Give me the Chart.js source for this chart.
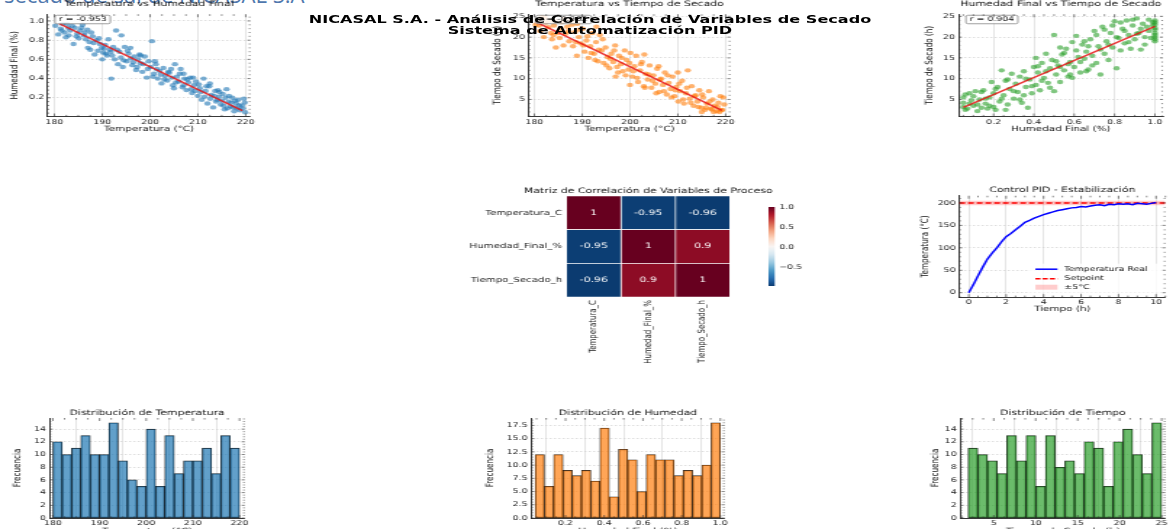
<!DOCTYPE html>
<html>
<head>
<meta charset="utf-8">
<script src="https://cdn.jsdelivr.net/npm/chart.js@4.4.1/dist/chart.umd.min.js"></script>
<style>
  html, body { margin: 0; padding: 0; background: #fff; overflow: hidden; }
  body { width: 1169px; height: 529px; position: relative; }
  #page-head { position: absolute; left: 4px; top: -17px; font-family: 'Open Sans', sans-serif; font-size: 22px; line-height: 22px; color: #4f77ad; white-space: nowrap; }
  #fig { position: absolute; left: 0; top: 0; height: 529px; transform-origin: 0 0; }
  #fig canvas { position: absolute; }
  #suptitle { position: absolute; font-family: 'DejaVu Sans', sans-serif; font-weight: bold; font-size: 11.1px; line-height: 11.5px; text-align: center; color: #000; white-space: nowrap; }
</style>
</head>
<body>
<div id="page-head">secado de sal de NICASAL S.A</div>
<div id="fig">
  <canvas id="sc1"></canvas>
  <canvas id="sc2"></canvas>
  <canvas id="sc3"></canvas>
  <canvas id="heat"></canvas>
  <canvas id="cbar"></canvas>
  <canvas id="pid"></canvas>
  <canvas id="h1"></canvas>
  <canvas id="h2"></canvas>
  <canvas id="h3"></canvas>
  <div id="suptitle">NICASAL S.A. - Análisis de Correlación de Variables de Secado<br>Sistema de Automatización PID</div>
</div>
<script>
// ---------- data ----------
// Temperatura vs Humedad Final
const p1Temp = [180.2,180.8,181.3,181.7,182.1,182.4,182.9,183.3,183.7,184.0,
  184.3,184.8,185.1,185.4,185.9,186.2,186.6,186.9,187.3,187.7,
  188.0,188.4,188.8,189.1,189.5,189.9,190.2,190.6,191.0,191.3,
  191.6,191.9,192.3,192.6,192.9,193.3,193.6,193.9,194.3,194.7,
  195.1,195.5,195.9,196.3,196.7,197.1,197.5,198.0,198.4,198.9,
  199.3,199.7,200.1,200.4,200.8,201.2,201.6,202.0,202.4,202.8,
  203.2,203.6,204.0,204.4,204.8,205.2,205.6,206.0,206.4,206.8,
  207.2,207.6,208.0,208.4,208.8,209.2,209.6,210.0,210.4,210.8,
  211.2,211.6,212.0,212.4,212.8,213.2,213.6,214.0,214.4,214.8,
  215.2,215.6,216.0,216.4,216.8,217.2,217.6,218.0,218.4,218.8,
  219.2,219.6,219.9,183.0,187.0,194.0,196.0,201.0,205.0,209.0,
  212.5,216.5,190.0,198.0,207.0,214.5,
  181.5,182.6,184.6,185.7,186.4,187.5,188.2,189.3,190.4,190.8,
  191.8,192.1,193.1,194.5,195.3,196.5,197.3,197.8,198.6,199.5,
  200.6,201.4,202.2,203.0,203.8,204.6,205.4,206.2,207.0,207.8,
  208.6,209.4,210.2,210.6,211.4,211.8,212.6,213.4,213.8,214.2,
  215.0,215.4,215.8,216.2,217.0,217.4,217.8,218.2,218.6,219.4,219.8];
const p1Hum = [0.95,0.86,0.92,0.97,0.88,0.83,0.93,0.90,0.95,0.76,
  0.93,0.87,0.82,0.90,0.96,0.85,0.81,0.91,0.78,0.88,
  0.84,0.65,0.80,0.69,0.76,0.72,0.67,0.75,0.64,0.81,
  0.70,0.40,0.73,0.60,0.90,0.55,0.68,0.62,0.52,0.73,
  0.58,0.66,0.72,0.54,0.63,0.49,0.60,0.56,0.47,0.63,
  0.41,0.58,0.52,0.79,0.45,0.55,0.40,0.48,0.35,0.51,
  0.43,0.38,0.46,0.50,0.33,0.55,0.42,0.37,0.50,0.31,
  0.40,0.28,0.36,0.41,0.25,0.33,0.37,0.22,0.30,0.18,
  0.40,0.27,0.14,0.32,0.23,0.10,0.27,0.18,0.21,0.13,
  0.24,0.08,0.29,0.16,0.11,0.20,0.06,0.14,0.18,0.07,
  0.12,0.19,0.05,0.85,0.72,0.85,0.61,0.58,0.30,0.41,
  0.35,0.22,0.60,0.64,0.45,0.26,
  0.90,0.97,0.84,0.93,0.88,0.70,0.77,0.82,0.71,0.66,
  0.68,0.64,0.70,0.59,0.69,0.57,0.52,0.65,0.55,0.50,
  0.42,0.50,0.44,0.39,0.47,0.41,0.36,0.45,0.33,0.39,
  0.29,0.27,0.34,0.26,0.21,0.32,0.19,0.22,0.16,0.28,
  0.17,0.12,0.20,0.09,0.15,0.10,0.17,0.09,0.12,0.09,0.15];

// Temperatura vs Tiempo de Secado
const p2Temp = [180.3,180.8,181.2,181.6,182.0,182.4,182.9,183.3,183.7,184.1,
  184.5,184.9,185.3,185.7,186.1,186.5,186.9,187.3,187.7,188.1,
  188.5,188.9,189.3,189.7,190.1,190.5,190.9,191.3,191.7,192.1,
  192.5,192.9,193.3,193.7,194.1,194.5,194.9,195.3,195.7,196.1,
  196.5,196.9,197.3,197.7,198.1,198.5,198.9,199.3,199.7,200.1,
  200.5,200.9,201.3,201.7,202.1,202.5,202.9,203.3,203.7,204.1,
  204.5,204.9,205.3,205.7,206.1,206.5,206.9,207.3,207.7,208.1,
  208.5,208.9,209.3,209.7,210.1,210.5,210.9,211.3,211.7,212.1,
  212.5,212.9,213.3,213.7,214.1,214.5,214.9,215.3,215.7,216.1,
  216.5,216.9,217.3,217.7,218.1,218.5,218.9,219.3,219.7,
  184.0,189.0,197.0,203.0,210.0,215.0,193.0,206.0,200.0,
  181.0,182.2,183.5,184.3,185.5,186.3,187.1,187.9,188.7,189.5,
  190.3,191.1,191.9,192.7,193.5,194.3,195.1,195.9,196.7,197.5,
  198.3,199.1,199.9,200.7,201.5,202.3,203.1,203.9,204.7,205.5,
  206.3,207.1,207.9,208.7,209.5,210.3,211.1,211.9,212.7,213.5,
  214.3,215.1,215.9,216.7,217.5,218.3,219.1,219.5,218.7,217.1];
const p2Time = [23.0,24.2,21.5,24.8,20.0,23.5,22.4,24.0,19.5,22.8,
  17.5,21.0,19.8,23.6,18.0,20.8,22.5,19.0,24.0,17.8,
  21.2,15.5,20.0,18.5,22.0,16.5,19.2,15.0,17.8,21.0,
  16.0,18.8,14.2,20.5,16.8,13.8,17.5,15.2,12.5,16.0,
  14.0,18.0,12.8,15.5,13.5,11.8,16.8,14.5,12.2,16.2,
  10.5,13.0,15.5,9.2,12.0,14.0,8.2,11.2,9.8,13.2,
  7.8,10.8,8.8,12.4,6.8,10.0,8.5,11.5,6.2,9.0,
  7.5,10.5,5.8,8.0,4.5,7.0,9.5,4.0,6.5,12.0,
  5.2,8.2,3.5,6.0,4.5,7.2,3.0,5.5,2.5,4.0,
  7.0,2.8,5.0,3.5,2.2,4.2,5.8,2.5,3.8,
  20.5,23.2,10.5,15.8,11.5,2.0,22.5,13.0,8.5,
  22.8,24.6,21.0,23.8,22.0,24.4,21.4,23.0,18.8,21.8,
  18.0,20.2,16.2,14.5,17.0,19.5,13.2,14.8,16.8,11.5,
  15.0,10.8,13.8,11.8,10.2,13.5,7.8,11.0,9.5,6.5,
  9.8,7.0,10.8,5.5,7.2,8.8,5.0,7.8,4.2,5.8,
  3.2,6.2,3.0,4.5,2.0,3.2,2.4,5.5,2.0,2.6];

// Humedad Final vs Tiempo de Secado
const p3Hum = [0.05,0.05,0.06,0.07,0.09,0.10,0.11,0.12,0.13,0.15,
  0.16,0.17,0.18,0.19,0.20,0.20,0.21,0.22,0.23,0.24,
  0.25,0.26,0.27,0.28,0.29,0.30,0.31,0.32,0.33,0.34,
  0.35,0.36,0.37,0.38,0.39,0.40,0.41,0.41,0.42,0.43,
  0.44,0.45,0.46,0.47,0.48,0.49,0.50,0.50,0.51,0.52,
  0.53,0.54,0.55,0.56,0.57,0.58,0.59,0.60,0.61,0.62,
  0.63,0.64,0.65,0.66,0.67,0.68,0.69,0.70,0.71,0.72,
  0.73,0.74,0.75,0.76,0.77,0.78,0.79,0.80,0.81,0.82,
  0.83,0.84,0.85,0.86,0.87,0.88,0.89,0.90,0.91,0.92,
  0.93,0.94,0.95,0.96,0.97,
  1.00,1.00,1.00,1.00,1.00,1.00,1.00,0.99,
  0.14,0.08,0.26,0.53,0.66,
  0.05,0.06,0.08,0.10,0.12,0.14,0.16,0.18,0.21,0.24,
  0.27,0.30,0.33,0.36,0.39,0.42,0.44,0.46,0.48,0.51,
  0.53,0.55,0.57,0.59,0.61,0.63,0.65,0.67,0.69,0.71,
  0.73,0.75,0.77,0.79,0.81,0.83,0.85,0.87,0.89,0.91,
  0.93,0.95,0.97,0.98,1.00,1.00,1.00,0.99,0.35,0.58];
const p3Time = [5.5,3.2,6.2,2.8,4.8,3.5,7.0,2.2,5.0,7.2,
  4.0,2.8,5.5,9.2,3.2,6.5,2.5,8.0,4.5,12.0,
  6.0,9.5,3.8,7.5,11.2,5.2,8.8,6.8,10.5,4.2,
  11.8,8.0,3.0,9.8,6.5,12.8,15.0,8.5,11.5,7.2,
  13.8,10.2,16.0,9.0,12.5,14.5,7.0,20.5,11.0,13.2,
  9.2,15.8,12.0,17.2,10.5,14.0,18.8,12.8,20.3,15.2,
  11.5,18.2,14.8,16.5,12.2,19.5,15.5,21.5,13.8,17.8,
  11.0,22.5,16.0,19.0,14.5,21.0,17.5,23.8,12.5,19.8,
  16.8,22.0,18.5,24.0,20.5,17.2,22.8,19.5,24.5,21.0,
  17.0,23.2,20.0,22.5,24.2,
  19.0,20.5,21.8,23.0,24.0,22.2,20.0,23.6,
  3.0,4.0,2.5,17.5,11.8,
  4.2,2.5,6.5,5.8,3.8,6.8,5.2,3.5,7.5,5.2,
  9.8,7.0,5.0,10.0,8.2,13.0,9.5,11.8,7.8,14.2,
  12.8,16.2,13.5,10.2,16.8,14.0,19.0,17.8,13.2,20.5,
  17.0,21.8,18.2,22.8,20.0,23.5,21.5,18.8,24.2,20.8,
  22.0,18.2,21.5,19.8,21.0,23.5,19.5,22.8,6.0,11.0];

// regression lines (end points) and r values
const fit1X = [181.0, 219.3], fit1Y = [0.973, 0.067];
const fit2X = [180.4, 219.2], fit2Y = [23.6, 2.35];
const fit3X = [0.05, 1.0], fit3Y = [3.1, 22.6];
const rLabels = ['r = -0.953', 'r = -0.962', 'r = 0.904'];

// correlation matrix
const varNames = ['Temperatura_C', 'Humedad_Final_%', 'Tiempo_Secado_h'];
const corr = [
  [1, -0.95, -0.96],
  [-0.95, 1, 0.9],
  [-0.96, 0.9, 1]
];
const cbarMin = -0.96, cbarMax = 1.0;

// PID control
const pidTime = [0,0.25,0.5,0.75,1,1.25,1.5,1.75,2,2.25,2.5,2.75,3,3.25,3.5,3.75,4,4.25,4.5,4.75,
  5,5.25,5.5,5.75,6,6.25,6.5,6.75,7,7.25,7.5,7.75,8,8.25,8.5,8.75,9,9.25,9.5,9.75,10];
const pidTemp = [0,18,38,57,75,88,100,113,125,132,140,148,157,161,166,170,174,177,180,183,
  185,187,189,190,192,191,193,195,196,194,197,196,198,197,198,196,199,198,197,199,201];
const setpoint = 200, tolerance = 5;

// histograms (20 bins each)
const histTempCounts = [12,10,11,13,10,10,15,9,6,5,14,5,13,7,9,9,11,7,13,11];
const histTempRange = [180, 220];
const histHumCounts = [12,6,12,9,8,9,7,17,4,13,11,5,12,11,11,8,9,8,10,18];
const histHumRange = [0.043, 1.0];
const histTimeCounts = [11,10,9,7,13,9,13,5,13,8,9,7,12,11,5,12,14,10,7,15];
const histTimeRange = [1.95, 25.0];

// tick labels
const tempTicks = [180, 190, 200, 210, 220];
const humTicks = [0.2, 0.4, 0.6, 0.8, 1.0];
const timeTicks = [5, 10, 15, 20, 25];
const freqTicks = [0, 2, 4, 6, 8, 10, 12, 14];
const freqHumTicks = [0, 2.5, 5, 7.5, 10, 12.5, 15, 17.5];
const pidTimeTicks = [0, 2, 4, 6, 8, 10];
const pidTempTicks = [0, 50, 100, 150, 200];
const cbarTicks = [-0.5, 0, 0.5, 1.0];

// ---------- layout ----------
// the reference figure is stretched sideways, so the whole figure is drawn narrow and scaled
const S = 1.45;
const fig = document.getElementById('fig');
fig.style.width = (1169 / S) + 'px';
fig.style.transform = 'scaleX(' + S + ')';

const sup = document.getElementById('suptitle');
sup.style.left = (190 / S) + 'px';
sup.style.width = (800 / S) + 'px';
sup.style.top = '13.5px';

Chart.defaults.font.family = "'DejaVu Sans', sans-serif";
Chart.defaults.color = '#222';
Chart.defaults.animation = false;

const C0 = [31, 119, 180], C1 = [255, 127, 14], C2 = [44, 160, 44];
const rgba = (c, a) => 'rgba(' + c[0] + ',' + c[1] + ',' + c[2] + ',' + a + ')';

function place(id, box) {
  const c = document.getElementById(id);
  c.width = Math.round((box.r - box.l) / S);
  c.height = Math.round(box.b - box.t);
  c.style.left = (box.l / S) + 'px';
  c.style.top = box.t + 'px';
  return c;
}

function margins(box, area) {
  return {
    ml: (area.l - box.l) / S,
    mr: (box.r - area.r) / S,
    mt: area.t - box.t,
    mb: box.b - area.b
  };
}

function axis(o) {
  return {
    type: 'linear', min: o.min, max: o.max, position: o.pos, bounds: 'data', offset: false,
    afterBuildTicks: s => { s.ticks = o.ticks.map(v => ({ value: v })); },
    afterFit: s => { if (o.pos === 'left') s.width = o.size; else s.height = o.size; },
    ticks: { font: { size: 6.5 }, color: '#222', padding: o.pos === 'left' ? 2.5 : 1.5, autoSkip: false, maxRotation: 0,
      callback: o.fmt || (v => v) },
    grid: { color: o.pos === 'left' ? '#c8c8c8' : '#d4d4d4', lineWidth: 0.6, drawTicks: false },
    border: { display: true, color: '#222', width: 0.9, dash: o.pos === 'left' ? [1.5, 1.5] : [] },
    title: { display: !!o.title, text: o.title, font: { size: 7.2 }, padding: 0, color: '#111' }
  };
}

// subplot title centred over the plot area, like matplotlib's ax.set_title
const axTitle = (text, gap) => ({
  id: 'axTitle',
  afterDraw(chart) {
    const { ctx, chartArea: a } = chart;
    ctx.save();
    ctx.font = "7.5px 'DejaVu Sans'";
    ctx.fillStyle = '#111';
    ctx.textAlign = 'center';
    ctx.textBaseline = 'middle';
    ctx.fillText(text, (a.left + a.right) / 2, a.top - gap);
    ctx.restore();
  }
});

// matplotlib-like inward ticks on all four sides
const mplTicks = {
  id: 'mplTicks',
  afterDraw(chart) {
    const { ctx, chartArea: a, scales } = chart;
    const list = (s, n) => {
      const t = s.ticks.map(k => k.value);
      const step = (t[1] - t[0]) / n;
      const out = [];
      let v = t[0] - Math.floor((t[0] - s.min) / step + 1e-9) * step;
      for (; v <= s.max + 1e-9; v += step) out.push([v, t.some(m => Math.abs(m - v) < step / 10)]);
      return out;
    };
    ctx.save();
    ctx.strokeStyle = '#333';
    ctx.lineWidth = 0.6;
    ctx.beginPath();
    list(scales.x, 4).forEach(([v, major]) => {
      const px = scales.x.getPixelForValue(v), L = major ? 3 : 1.6;
      ctx.moveTo(px, a.top); ctx.lineTo(px, a.top + L);
      ctx.moveTo(px, a.bottom); ctx.lineTo(px, a.bottom - L);
    });
    list(scales.y, 5).forEach(([v, major]) => {
      const py = scales.y.getPixelForValue(v), L = (major ? 3 : 1.6) / S;
      ctx.moveTo(a.left, py); ctx.lineTo(a.left + L, py);
      ctx.moveTo(a.right, py); ctx.lineTo(a.right - L, py);
    });
    ctx.stroke();
    ctx.restore();
  }
};

const rBox = (text, dx) => ({
  id: 'rBox',
  afterDatasetsDraw(chart) {
    const { ctx, chartArea: a } = chart;
    ctx.save();
    ctx.font = "6.5px 'DejaVu Sans'";
    const w = ctx.measureText(text).width + 5, h = 8.5;
    const x = a.left + dx, y = a.top + 1;
    ctx.beginPath();
    if (ctx.roundRect) ctx.roundRect(x, y, w, h, 1.5); else ctx.rect(x, y, w, h);
    ctx.fillStyle = 'rgba(255,255,255,0.85)';
    ctx.fill();
    ctx.strokeStyle = '#777';
    ctx.lineWidth = 0.7;
    ctx.stroke();
    ctx.fillStyle = '#111';
    ctx.textBaseline = 'middle';
    ctx.textAlign = 'left';
    ctx.fillText(text, x + 2.5, y + h / 2 + 0.3);
    ctx.restore();
  }
});

function baseOptions(m) {
  return {
    responsive: false,
    layout: { padding: { left: 0, right: m.mr, top: m.mt, bottom: 0 } },
    plugins: { legend: { display: false }, tooltip: { enabled: false } }
  };
}

function scatterPanel(id, box, area, title, xs, ys, color, fx, fy, rText, xAx, yAx) {
  const m = margins(box, area);
  return new Chart(place(id, box), {
    type: 'scatter',
    data: {
      datasets: [
        { data: fx.map((x, i) => ({ x: x, y: fy[i] })), showLine: true, pointRadius: 0,
          borderColor: 'rgba(230,20,20,0.85)', borderWidth: 1.5, order: 0 },
        { data: xs.map((x, i) => ({ x: x, y: ys[i] })), pointRadius: 2.2, borderWidth: 0,
          backgroundColor: rgba(color, 0.6), order: 1 }
      ]
    },
    options: Object.assign(baseOptions(m), {
      scales: {
        x: axis(Object.assign({ pos: 'bottom', size: m.mb }, xAx)),
        y: axis(Object.assign({ pos: 'left', size: m.ml }, yAx))
      }
    }),
    plugins: [mplTicks, rBox(rText, 5), axTitle(title, 10)]
  });
}

function histPanel(id, box, area, title, counts, range, color, xAx, yAx) {
  const m = margins(box, area);
  const w = (range[1] - range[0]) / counts.length;
  return new Chart(place(id, box), {
    type: 'bar',
    data: {
      datasets: [{
        data: counts.map((c, i) => ({ x: range[0] + (i + 0.5) * w, y: c })),
        backgroundColor: rgba(color, 0.7), borderColor: 'rgba(0,0,0,0.85)', borderWidth: 0.6,
        borderSkipped: false, barPercentage: 1, categoryPercentage: 1
      }]
    },
    options: Object.assign(baseOptions(m), {
      scales: {
        x: axis(Object.assign({ pos: 'bottom', size: m.mb }, xAx)),
        y: axis(Object.assign({ pos: 'left', size: m.ml }, yAx))
      }
    }),
    plugins: [mplTicks, axTitle(title, 5.3)]
  });
}

const f1 = v => v.toFixed(1);

// ---------- top row: scatter plots ----------
scatterPanel('sc1', { l: 8, t: -0.25, r: 262, b: 132.5 }, { l: 47, t: 14, r: 250, b: 116 },
  'Temperatura vs Humedad Final', p1Temp, p1Hum, C0, fit1X, fit1Y, rLabels[0],
  { min: 178.6, max: 221.0, ticks: tempTicks, title: 'Temperatura (°C)' },
  { min: 0.005, max: 1.07, ticks: humTicks, title: 'Humedad Final (%)', fmt: f1 });

scatterPanel('sc2', { l: 491, t: -0.25, r: 742, b: 132.5 }, { l: 528, t: 14, r: 730, b: 116 },
  'Temperatura vs Tiempo de Secado', p2Temp, p2Time, C1, fit2X, fit2Y, rLabels[1],
  { min: 178.8, max: 221.0, ticks: tempTicks, title: 'Temperatura (°C)' },
  { min: 0.9, max: 25.5, ticks: timeTicks, title: 'Tiempo de Secado (h)' });

scatterPanel('sc3', { l: 924, t: -0.25, r: 1176, b: 132.5 }, { l: 959, t: 14, r: 1163, b: 116 },
  'Humedad Final vs Tiempo de Secado', p3Hum, p3Time, C2, fit3X, fit3Y, rLabels[2],
  { min: 0.027, max: 1.04, ticks: humTicks, title: 'Humedad Final (%)', fmt: f1 },
  { min: 0.9, max: 25.5, ticks: timeTicks, title: 'Tiempo de Secado (h)' });

// ---------- correlation heatmap ----------
const rdbuStops = [[5,48,97],[33,102,172],[67,147,195],[146,197,222],[209,229,240],[247,247,247],
  [253,219,199],[244,165,130],[214,96,77],[178,24,43],[103,0,31]];
function rdbu(v) {
  const t = Math.min(1, Math.max(0, (v + 1) / 2)) * 10;
  const i = Math.min(9, Math.floor(t)), f = t - i;
  const a = rdbuStops[i], b = rdbuStops[i + 1];
  return 'rgb(' + [0, 1, 2].map(k => Math.round(a[k] + (b[k] - a[k]) * f)).join(',') + ')';
}

const cellText = {
  id: 'cellText',
  afterDatasetsDraw(chart) {
    const ctx = chart.ctx;
    ctx.save();
    ctx.font = "7.5px 'DejaVu Sans'";
    ctx.textAlign = 'center';
    ctx.textBaseline = 'middle';
    chart.data.datasets.forEach((ds, i) => {
      chart.getDatasetMeta(i).data.forEach((el, j) => {
        const v = corr[j][i];
        const p = el.getCenterPoint();
        ctx.fillStyle = Math.abs(v) > 0.5 ? '#fff' : '#111';
        ctx.fillText(String(v), p.x, p.y);
      });
    });
    ctx.restore();
  }
};

const heatBox = { l: 466, t: 187, r: 800, b: 365 }, heatArea = { l: 567, t: 196, r: 731, b: 297 };
const hm = margins(heatBox, heatArea);
new Chart(place('heat', heatBox), {
  type: 'bar',
  data: {
    labels: varNames,
    datasets: varNames.map((name, i) => ({
      label: name,
      data: varNames.map(() => 1),
      backgroundColor: corr.map(row => rdbu(row[i])),
      borderColor: '#fff', borderWidth: 0.7, borderSkipped: false,
      barPercentage: 1, categoryPercentage: 1
    }))
  },
  options: Object.assign(baseOptions(hm), {
    indexAxis: 'y',
    scales: {
      x: {
        type: 'linear', stacked: true, min: 0, max: 3, bounds: 'data',
        afterBuildTicks: s => { s.ticks = varNames.map((n, i) => ({ value: i + 0.5 })); },
        afterFit: s => { s.height = hm.mb; },
        ticks: { callback: v => varNames[Math.floor(v)], minRotation: 90, maxRotation: 90, autoSkip: false,
          font: { size: 7 }, padding: 3, color: '#222' },
        grid: { display: false, drawTicks: false }, border: { display: false }
      },
      y: {
        stacked: true,
        afterFit: s => { s.width = hm.ml; },
        ticks: { font: { size: 7 }, padding: 3, color: '#222' },
        grid: { display: false, drawTicks: false }, border: { display: false }
      }
    }
  }),
  plugins: [cellText, axTitle('Matriz de Correlación de Variables de Proceso', 5.3)]
});

// colour bar
const cbBox = { l: 769, t: 200, r: 815, b: 293 }, cbArea = { l: 769, t: 206, r: 775, b: 287 };
const cm = margins(cbBox, cbArea);
new Chart(place('cbar', cbBox), {
  type: 'bar',
  data: {
    labels: [''],
    datasets: [{
      data: [[cbarMin, cbarMax]],
      barPercentage: 1, categoryPercentage: 1, borderWidth: 0,
      backgroundColor: c => {
        const ch = c.chart;
        if (!ch.chartArea) return rdbu(0);
        const ys = ch.scales.y;
        const g = ch.ctx.createLinearGradient(0, ys.getPixelForValue(cbarMin), 0, ys.getPixelForValue(cbarMax));
        for (let k = 0; k <= 20; k++) g.addColorStop(k / 20, rdbu(cbarMin + (cbarMax - cbarMin) * k / 20));
        return g;
      }
    }]
  },
  options: {
    responsive: false,
    layout: { padding: { left: 0, right: 0, top: cm.mt, bottom: cm.mb } },
    plugins: { legend: { display: false }, tooltip: { enabled: false } },
    scales: {
      x: { display: false },
      y: {
        position: 'right', min: cbarMin, max: cbarMax, bounds: 'data',
        afterBuildTicks: s => { s.ticks = cbarTicks.map(v => ({ value: v })); },
        afterFit: s => { s.width = cm.mr; },
        ticks: { font: { size: 6.5 }, padding: 3, color: '#222', callback: v => v.toFixed(1).replace('-', '\u2212') },
        grid: { display: false, drawTicks: false }, border: { display: false }
      }
    }
  }
});

// ---------- PID control ----------
const pidLegend = {
  id: 'pidLegend',
  afterDraw(chart) {
    const { ctx, chartArea: a } = chart;
    const x0 = a.right - 130 / S, x1 = a.right - 108 / S, tx = a.right - 101 / S;
    const rows = [a.bottom - 28, a.bottom - 18.5, a.bottom - 10];
    ctx.save();
    ctx.fillStyle = 'rgba(255,255,255,0.8)';
    ctx.fillRect(a.right - 136 / S, a.bottom - 33.5, 133 / S, 29);
    ctx.lineWidth = 1.5;
    ctx.strokeStyle = '#0000ff';
    ctx.beginPath(); ctx.moveTo(x0, rows[0]); ctx.lineTo(x1, rows[0]); ctx.stroke();
    ctx.strokeStyle = '#ff0000';
    ctx.setLineDash([3.5, 1.5]);
    ctx.beginPath(); ctx.moveTo(x0, rows[1]); ctx.lineTo(x1, rows[1]); ctx.stroke();
    ctx.setLineDash([]);
    ctx.fillStyle = 'rgba(255,0,0,0.2)';
    ctx.fillRect(x0, rows[2] - 2.5, x1 - x0, 5);
    ctx.fillStyle = '#111';
    ctx.font = "6.5px 'DejaVu Sans'";
    ctx.textBaseline = 'middle';
    ctx.textAlign = 'left';
    ['Temperatura Real', 'Setpoint', '±5°C'].forEach((t, i) => ctx.fillText(t, tx, rows[i]));
    ctx.restore();
  }
};

const pidBox = { l: 919, t: 186.25, r: 1177, b: 312.8 }, pidArea = { l: 959, t: 196, r: 1165, b: 297 };
const pm = margins(pidBox, pidArea);
const pidXMin = -0.5, pidXMax = 10.5;
new Chart(place('pid', pidBox), {
  type: 'scatter',
  data: {
    datasets: [
      { data: pidTime.map((t, i) => ({ x: t, y: pidTemp[i] })), showLine: true, pointRadius: 0,
        borderColor: '#0000ff', borderWidth: 1.5, order: 0 },
      { data: [{ x: pidXMin, y: setpoint }, { x: pidXMax, y: setpoint }], showLine: true, pointRadius: 0,
        borderColor: '#ff0000', borderWidth: 1.5, borderDash: [4, 2], order: 1 },
      { data: [{ x: pidXMin, y: setpoint - tolerance }, { x: pidXMax, y: setpoint - tolerance }], showLine: true,
        pointRadius: 0, borderWidth: 0, fill: false, order: 3 },
      { data: [{ x: pidXMin, y: setpoint + tolerance }, { x: pidXMax, y: setpoint + tolerance }], showLine: true,
        pointRadius: 0, borderWidth: 0, fill: '-1', backgroundColor: 'rgba(255,0,0,0.2)', order: 2 }
    ]
  },
  options: Object.assign(baseOptions(pm), {
    scales: {
      x: axis({ pos: 'bottom', size: pm.mb, min: pidXMin, max: pidXMax, ticks: pidTimeTicks, title: 'Tiempo (h)' }),
      y: axis({ pos: 'left', size: pm.ml, min: -10, max: 216, ticks: pidTempTicks, title: 'Temperatura (°C)' })
    }
  }),
  plugins: [mplTicks, pidLegend, axTitle('Control PID - Estabilización', 6)]
});

// ---------- bottom row: histograms ----------
histPanel('h1', { l: 12, t: 409, r: 257, b: 535 }, { l: 50, t: 418, r: 245, b: 518 },
  'Distribución de Temperatura', histTempCounts, histTempRange, C0,
  { min: 179.3, max: 221.1, ticks: tempTicks, title: 'Temperatura (°C)' },
  { min: 0, max: 15.75, ticks: freqTicks, title: 'Frecuencia' });

histPanel('h2', { l: 485, t: 409, r: 737, b: 535 }, { l: 532, t: 418, r: 725, b: 518 },
  'Distribución de Humedad', histHumCounts, histHumRange, C1,
  { min: 0.023, max: 1.022, ticks: humTicks, title: 'Humedad Final (%)', fmt: f1 },
  { min: 0, max: 18.9, ticks: freqHumTicks, title: 'Frecuencia', fmt: f1 });

histPanel('h3', { l: 929, t: 409, r: 1177, b: 535 }, { l: 960, t: 418, r: 1165, b: 518 },
  'Distribución de Tiempo', histTimeCounts, histTimeRange, C2,
  { min: 1.04, max: 25.45, ticks: timeTicks, title: 'Tiempo de Secado (h)' },
  { min: 0, max: 15.75, ticks: freqTicks, title: 'Frecuencia' });
</script>
</body>
</html>
